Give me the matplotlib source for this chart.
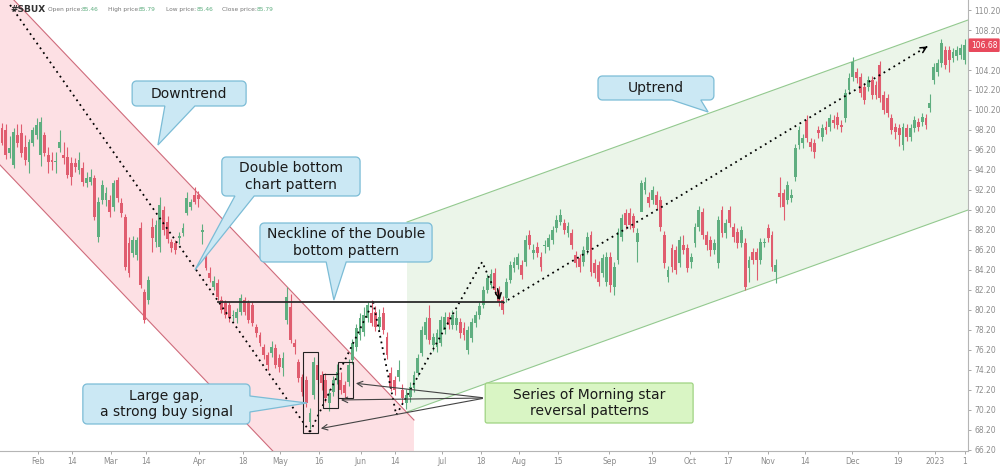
import numpy as np
import matplotlib.pyplot as plt
from matplotlib.patches import Polygon, Rectangle

# daily candles, one per trading day (index 0 = first visible bar)
opens = [98.4, 98.2, 95.9, 94.7, 97.7, 97.9, 96.5, 95.0, 96.9, 97.7,
         95.7, 97.7, 95.7, 95.2, 95.0, 96.4, 95.7, 95.5, 94.9, 94.9,
         94.2, 94.4, 92.9, 93.0, 93.4, 87.5, 91.2, 91.2, 91.2, 90.5,
         93.2, 90.9, 89.5, 86.9, 85.9, 85.7, 88.4, 82.0, 81.2, 88.5,
         87.0, 86.5, 90.2, 89.0, 87.0, 86.9, 87.4, 87.9, 89.9, 90.5,
         91.7, 91.7, 88.0, 86.0, 83.9, 82.5, 82.9, 81.2, 80.9, 80.7,
         79.6, 79.4, 80.0, 81.2, 80.9, 80.7, 78.5, 77.7, 76.5, 75.7,
         75.9, 76.4, 75.4, 74.4, 79.2, 80.5, 76.9, 75.0, 73.5, 73.2,
         69.0, 71.7, 74.7, 73.7, 73.2, 70.9, 72.0, 73.2, 73.2, 72.7,
         73.0, 75.2, 76.5, 77.7, 78.0, 79.4, 79.9, 80.0, 78.5, 79.9,
         77.5, 73.9, 73.2, 73.5, 72.2, 70.9, 71.5, 72.4, 73.9, 75.9,
         77.7, 79.4, 76.7, 76.5, 76.9, 78.2, 79.5, 78.7, 78.7, 79.0,
         78.4, 76.2, 77.4, 78.9, 79.7, 80.7, 82.2, 82.7, 83.9, 82.2,
         81.2, 81.4, 83.2, 84.4, 84.7, 84.7, 85.0, 87.7, 85.9, 86.5,
         85.5, 86.6, 86.5, 87.2, 88.4, 89.0, 88.9, 87.9, 87.9, 85.7,
         85.4, 85.0, 86.2, 87.7, 84.9, 84.7, 83.9, 83.0, 85.5, 82.5,
         85.2, 87.5, 89.9, 89.9, 89.6, 87.0, 90.0, 92.2, 91.5, 91.2,
         91.7, 91.2, 87.7, 83.5, 86.4, 86.2, 84.9, 86.7, 86.4, 85.0,
         86.9, 88.5, 90.0, 87.7, 87.2, 86.2, 84.9, 90.2, 87.9, 90.2,
         88.5, 88.0, 86.9, 86.9, 84.4, 86.0, 86.0, 85.2, 86.9, 88.4,
         87.7, 84.0, 91.9, 91.9, 91.2, 91.4, 93.5, 96.7, 96.9, 99.2,
         97.0, 96.9, 98.2, 97.5, 98.5, 98.5, 99.2, 99.5, 98.7, 99.4,
         102.2, 103.5, 104.0, 103.5, 102.5, 102.5, 103.2, 102.7, 104.7, 101.7,
         101.4, 99.4, 98.5, 98.4, 96.7, 98.4, 97.5, 98.4, 99.0, 99.0,
         99.4, 100.4, 103.2, 104.0, 104.9, 106.2, 106.2, 105.4, 105.6, 105.7,
         105.2]
highs = [98.9, 98.8, 97.6, 98.4, 98.8, 98.8, 97.7, 97.3, 98.5, 99.4,
         99.5, 98.0, 96.5, 96.0, 96.0, 98.2, 97.0, 96.5, 95.5, 95.4,
         96.0, 95.0, 94.0, 94.3, 93.7, 91.5, 93.2, 92.5, 91.7, 93.2,
         93.5, 91.4, 89.8, 87.5, 87.6, 87.5, 89.0, 82.3, 83.6, 89.4,
         89.2, 91.5, 90.6, 89.6, 87.3, 87.2, 88.0, 88.9, 92.0, 91.3,
         92.5, 92.1, 88.8, 86.3, 84.5, 83.6, 83.3, 81.6, 81.2, 81.0,
         80.2, 80.4, 81.8, 81.5, 81.2, 81.0, 78.8, 78.0, 76.8, 76.0,
         77.1, 76.8, 75.8, 76.0, 82.5, 81.8, 77.3, 75.3, 73.8, 73.6,
         70.4, 75.5, 75.1, 74.1, 73.9, 72.3, 73.6, 74.8, 74.0, 73.1,
         75.3, 77.3, 78.8, 79.9, 80.5, 81.0, 81.2, 80.6, 80.3, 80.5,
         78.0, 74.5, 73.6, 75.2, 72.8, 72.3, 73.0, 74.1, 75.8, 78.6,
         79.5, 80.7, 77.9, 78.3, 79.6, 80.0, 80.0, 80.2, 80.2, 79.4,
         79.0, 78.6, 79.4, 80.1, 81.0, 82.6, 83.8, 84.3, 84.4, 82.6,
         81.6, 83.4, 85.1, 85.5, 85.9, 85.2, 87.7, 88.2, 86.8, 87.0,
         86.0, 87.2, 87.8, 88.6, 89.7, 90.3, 89.3, 89.0, 88.3, 86.1,
         85.8, 86.6, 88.0, 88.1, 85.3, 85.1, 85.8, 86.0, 86.0, 85.0,
         88.4, 89.8, 90.3, 90.4, 89.9, 88.4, 93.2, 93.5, 92.0, 92.6,
         92.1, 91.6, 88.1, 84.6, 86.8, 86.6, 87.6, 87.7, 86.8, 85.9,
         88.9, 90.6, 90.4, 88.1, 87.6, 87.3, 89.6, 90.6, 89.3, 90.6,
         88.9, 88.4, 88.6, 87.4, 85.6, 86.4, 86.4, 87.4, 87.4, 88.8,
         88.1, 85.3, 93.5, 92.3, 93.1, 92.3, 96.8, 98.6, 97.8, 99.7,
         97.4, 97.3, 98.6, 98.8, 99.1, 99.8, 99.7, 100.0, 99.2, 102.3,
         103.9, 105.5, 104.4, 103.9, 102.9, 103.6, 103.6, 103.1, 105.1, 102.1,
         101.8, 99.8, 98.9, 98.8, 98.9, 98.8, 98.8, 99.6, 99.4, 99.9,
         99.8, 101.8, 104.9, 105.3, 107.3, 106.6, 106.6, 106.4, 106.6, 106.8,
         107.3]
lows = [96.7, 95.3, 95.4, 94.4, 96.5, 95.5, 94.7, 93.9, 96.6, 97.3,
        94.6, 95.6, 93.9, 94.2, 93.9, 96.0, 94.8, 93.4, 92.7, 94.0,
        93.8, 92.6, 92.5, 92.7, 89.2, 87.0, 90.8, 90.6, 89.5, 90.1,
        91.0, 89.5, 84.2, 83.5, 85.5, 85.2, 82.4, 78.9, 80.8, 86.0,
        86.5, 86.0, 87.7, 86.9, 86.0, 85.8, 86.8, 87.6, 89.7, 90.2,
        90.8, 90.5, 86.8, 84.2, 83.0, 82.2, 81.2, 79.9, 79.4, 79.0,
        79.1, 78.9, 79.7, 79.7, 78.9, 78.6, 77.5, 76.6, 75.3, 74.2,
        75.5, 74.4, 74.0, 73.6, 78.8, 76.9, 75.8, 73.0, 71.6, 70.5,
        68.3, 71.3, 72.8, 72.2, 71.0, 70.1, 71.6, 72.8, 71.8, 71.3,
        72.6, 74.8, 76.1, 77.2, 77.6, 79.0, 78.6, 78.1, 78.1, 77.8,
        75.3, 72.1, 71.7, 73.1, 70.9, 70.3, 71.0, 72.0, 73.6, 75.6,
        77.3, 76.8, 76.1, 76.0, 76.6, 77.8, 78.3, 78.3, 78.2, 77.4,
        77.2, 75.8, 77.0, 78.5, 79.3, 80.4, 81.9, 82.4, 81.8, 80.6,
        79.8, 81.0, 82.9, 84.0, 84.3, 83.3, 84.6, 86.3, 85.3, 85.5,
        84.1, 85.9, 86.2, 86.8, 88.0, 88.7, 87.8, 87.5, 86.3, 84.5,
        84.0, 84.6, 85.8, 83.6, 83.4, 82.6, 83.5, 82.6, 82.0, 81.7,
        84.8, 87.1, 88.3, 88.3, 88.0, 85.0, 90.6, 91.8, 90.5, 90.8,
        90.3, 88.1, 84.4, 83.0, 84.0, 83.8, 84.5, 85.8, 84.0, 84.4,
        86.5, 88.1, 87.3, 86.2, 85.6, 85.8, 84.4, 87.5, 87.4, 88.5,
        87.0, 86.4, 86.5, 82.2, 83.0, 84.8, 83.2, 84.8, 86.5, 87.0,
        84.1, 82.9, 90.5, 89.2, 90.8, 91.0, 93.1, 96.3, 96.4, 97.0,
        96.1, 95.4, 97.4, 97.1, 97.8, 98.1, 98.4, 98.3, 98.0, 99.0,
        101.8, 103.1, 102.9, 101.5, 100.8, 102.1, 101.3, 101.3, 101.0, 99.8,
        99.5, 97.8, 97.3, 96.6, 96.2, 97.1, 97.1, 98.0, 98.1, 98.6,
        98.3, 100.0, 102.8, 103.6, 104.5, 104.3, 104.0, 105.0, 105.2, 105.3,
        104.8]
closes = [96.9, 95.7, 96.4, 98.0, 96.9, 95.9, 95.2, 97.0, 98.2, 98.7,
          99.0, 95.9, 95.0, 95.0, 95.1, 97.0, 95.4, 93.7, 93.5, 94.5,
          95.2, 93.0, 93.4, 93.5, 89.5, 91.0, 92.7, 91.9, 90.0, 92.9,
          91.4, 89.9, 84.5, 83.9, 87.2, 87.2, 82.7, 79.2, 83.2, 87.4,
          88.7, 90.7, 88.2, 87.3, 86.4, 86.2, 87.6, 88.4, 91.4, 91.0,
          91.0, 91.3, 88.2, 84.4, 83.4, 83.1, 81.5, 80.2, 79.7, 79.4,
          79.7, 80.0, 81.4, 80.0, 79.2, 78.9, 77.9, 76.9, 75.7, 74.7,
          76.5, 74.7, 74.5, 75.4, 81.5, 77.2, 76.5, 73.4, 72.0, 70.9,
          69.9, 75.0, 73.2, 72.9, 71.4, 71.9, 73.2, 74.0, 72.2, 71.9,
          74.7, 76.9, 78.4, 79.4, 79.7, 80.7, 78.9, 78.5, 79.5, 78.2,
          75.7, 72.5, 72.2, 74.2, 71.4, 71.7, 72.5, 73.7, 75.4, 78.2,
          79.0, 77.2, 77.5, 77.9, 79.2, 79.5, 78.7, 79.7, 79.4, 77.9,
          77.7, 78.2, 79.0, 79.7, 80.6, 82.2, 83.4, 83.8, 82.2, 81.0,
          80.2, 83.0, 84.7, 85.0, 85.5, 83.7, 87.2, 86.7, 86.2, 85.9,
          84.5, 86.7, 87.4, 88.2, 89.2, 89.7, 88.2, 88.6, 86.7, 84.9,
          84.5, 86.2, 87.5, 84.0, 83.9, 83.0, 85.4, 85.5, 82.7, 84.5,
          88.0, 89.4, 88.7, 88.7, 88.4, 87.9, 92.9, 93.0, 90.9, 92.2,
          90.7, 88.5, 84.9, 84.2, 84.5, 84.2, 87.2, 86.2, 84.4, 85.5,
          88.5, 90.2, 87.7, 86.7, 86.2, 86.9, 89.2, 87.9, 88.9, 88.9,
          87.5, 86.9, 88.2, 82.5, 85.2, 85.2, 85.2, 87.0, 87.0, 87.4,
          84.5, 84.7, 91.5, 90.5, 92.7, 91.7, 96.4, 98.2, 97.4, 97.4,
          96.5, 96.0, 97.9, 98.4, 98.2, 99.4, 98.9, 98.7, 98.5, 101.9,
          103.4, 105.0, 103.4, 101.9, 101.2, 103.2, 101.7, 101.7, 101.4, 100.2,
          99.9, 98.2, 98.0, 97.7, 98.5, 97.5, 98.4, 99.2, 98.5, 99.5,
          98.7, 100.9, 104.5, 104.9, 106.9, 104.7, 105.2, 106.0, 106.2, 106.4,
          106.7]

date_ticks = [9.3, 18.2, 28.3, 37.4, 51.2, 62.6, 72.2, 82.3, 93.2, 102.1,
              114.3, 124.4, 134.3, 144.4, 157.7, 168.8, 178.7, 188.6, 199.0,
              208.6, 220.8, 232.7, 242.3, 250.1]
date_labels = ['Feb', '14', 'Mar', '14', 'Apr', '18', 'May', '16', 'Jun', '14',
               'Jul', '18', 'Aug', '15', 'Sep', '19', 'Oct', '17', 'Nov', '14',
               'Dec', '19', '2023', '1']
price_ticks = [66.2 + 2 * i for i in range(23)]
last_price = 106.68

GREEN = '#5fae80'
RED = '#e05d6f'
BLUE_F, BLUE_E = '#cbe8f4', '#7bbcd6'

fig = plt.figure(figsize=(10, 4.67), dpi=100)
ax = fig.add_axes([0, 16 / 467, 0.968, 451 / 467])
ax.set_xlim(-0.52, 250.9)
ax.set_ylim(66.1, 111.2)

# trend channels
ax.add_patch(Polygon([(-1, 112.85), (107, 69.2), (107, 51.3), (-1, 94.9)],
                     fc='#fde0e4', ec='none', zorder=0))
ax.plot([-1, 107], [112.85, 69.2], color='#cf6b7b', lw=0.8, zorder=1)
ax.plot([-1, 107], [94.9, 51.3], color='#cf6b7b', lw=0.8, zorder=1)
ax.add_patch(Polygon([(105.2, 89.0), (252, 109.35), (252, 90.35), (105.2, 70.0)],
                     fc='#ebf5e9', ec='none', zorder=0))
ax.plot([105.2, 252], [89.0, 109.35], color='#93c98f', lw=0.8, zorder=1)
ax.plot([105.2, 252], [70.0, 90.35], color='#93c98f', lw=0.8, zorder=1)

# candles
o, h, l, c = map(np.array, (opens, highs, lows, closes))
idx = np.arange(len(o))
col = np.where(c >= o, GREEN, RED)
ax.vlines(idx, l, h, colors=col, lw=0.8, zorder=3)
ax.bar(idx, np.maximum(np.abs(c - o), 0.12), bottom=np.minimum(o, c),
       width=0.74, color=col, linewidth=0, zorder=4)

# dotted trend paths
dot = dict(color='black', lw=1.3, ls=(0, (1, 2.2)), zorder=5)
ax.plot([2.1, 80.0], [110.7, 68.0], **dot)
ax.plot([80.0, 96.4, 102.4, 124.7, 129.2], [68.0, 81.0, 69.7, 85.0, 81.1], **dot)
ax.plot([130.1, 240.5], [80.9, 106.6], **dot)
ax.annotate('', xy=(129.4, 80.9), xytext=(128.6, 82.6),
            arrowprops=dict(arrowstyle='->', lw=1.1, color='black'), zorder=6)
ax.annotate('', xy=(241.0, 106.7), xytext=(239.5, 106.35),
            arrowprops=dict(arrowstyle='->', lw=1.1, color='black'), zorder=6)

# neckline
ax.plot([56.1, 130.1], [81.0, 81.0], color='#2b2b2b', lw=1.3, zorder=5)

# morning star boxes
for x0, x1, y0, y1 in [(78.2, 82.1, 67.9, 76.0), (83.4, 87.3, 70.4, 73.8),
                       (87.3, 91.2, 71.4, 75.0)]:
    ax.add_patch(Rectangle((x0, y0), x1 - x0, y1 - y0, fill=False,
                           ec='#222222', lw=0.8, zorder=6))
for tx, ty in [(91.2, 72.9), (87.3, 71.2), (82.1, 68.3)]:
    ax.annotate('', xy=(tx, ty), xytext=(125.5, 71.4),
                arrowprops=dict(arrowstyle='->', lw=0.8, color='#444444'),
                zorder=6)


def bubble(x0, x1, yb, yt, side=None, a=0, b=0, tip=None, rx=1.1, ry=0.42):
    pts = []
    def arc(cx, cy, t0, t1):
        for t in np.linspace(t0, t1, 6):
            pts.append((cx + rx * np.cos(t), cy + ry * np.sin(t)))
    arc(x0 + rx, yb + ry, np.pi, 1.5 * np.pi)
    if side == 'bottom':
        pts += [(a, yb), tip, (b, yb)]
    arc(x1 - rx, yb + ry, 1.5 * np.pi, 2 * np.pi)
    if side == 'right':
        pts += [(x1, a), tip, (x1, b)]
    arc(x1 - rx, yt - ry, 0, 0.5 * np.pi)
    arc(x0 + rx, yt - ry, 0.5 * np.pi, np.pi)
    return pts


def callout(x0, x1, yb, yt, text, fc=BLUE_F, ec=BLUE_E, **kw):
    ax.add_patch(Polygon(bubble(x0, x1, yb, yt, **kw), closed=True,
                         fc=fc, ec=ec, lw=0.9, zorder=7))
    ax.text((x0 + x1) / 2, (yb + yt) / 2, text, ha='center', va='center',
            fontsize=10, color='#1a1a1a', linespacing=1.25, zorder=8)


callout(33.8, 63.4, 100.6, 103.1, 'Downtrend', side='bottom', a=42.3, b=50.1,
        tip=(40.5, 96.7))
callout(57.1, 93.0, 91.6, 95.5, 'Double bottom\nchart pattern', side='bottom',
        a=60.5, b=65.5, tip=(50.1, 84.2))
callout(67.0, 111.7, 85.0, 88.9, 'Neckline of the Double\nbottom pattern',
        side='bottom', a=84.2, b=89.4, tip=(86.2, 81.2))
callout(154.8, 184.9, 101.2, 103.6, 'Uptrend', side='bottom', a=174.0, b=181.5,
        tip=(183.4, 100.0))
callout(21.0, 64.4, 68.8, 72.8, 'Large gap,\na strong buy signal', side='right',
        a=70.0, b=71.6, tip=(79.2, 70.9))
callout(125.5, 179.5, 68.9, 72.9, 'Series of Morning star\nreversal patterns',
        fc='#d9f5c4', ec='#9fd382', rx=0.5, ry=0.2)

# axes styling; the tick under the last-price marker is hidden by it
ax.yaxis.tick_right()
ax.set_yticks(price_ticks)
ax.set_yticklabels(['' if abs(v - last_price) < 1 else f'{v:.2f}'
                    for v in price_ticks])
ax.set_xticks(date_ticks)
ax.set_xticklabels(date_labels)
ax.tick_params(colors='#9a9a9a', labelsize=5.5, length=2.5, width=0.6,
               labelcolor='#8c8c8c', pad=2)
for s in ['left', 'top']:
    ax.spines[s].set_visible(False)
for s in ['right', 'bottom']:
    ax.spines[s].set_color('#b5b5b5')
    ax.spines[s].set_linewidth(0.8)

# last price marker
ax.text(1.003, last_price, f'{last_price:.2f}', transform=ax.get_yaxis_transform(),
        ha='left', va='center', fontsize=5.5, color='white', zorder=10,
        bbox=dict(boxstyle='round,pad=0.3,rounding_size=0.15', fc='#e8495c',
                  ec='none'), clip_on=False)

# header
fig.text(0.010, 0.979, '#SBUX', fontsize=6.5, fontweight='bold', color='#333333',
         va='center')
for x_lab, x_val, lab, val in [(0.048, 0.082, 'Open price:', '85.46'),
                               (0.108, 0.139, 'High price:', '85.79'),
                               (0.166, 0.197, 'Low price:', '85.46'),
                               (0.222, 0.257, 'Close price:', '85.79')]:
    fig.text(x_lab, 0.979, lab, fontsize=4.2, color='#777777', va='center')
    fig.text(x_val, 0.979, val, fontsize=4.2, color=GREEN, va='center')

fig.savefig('out.png', dpi=100)
